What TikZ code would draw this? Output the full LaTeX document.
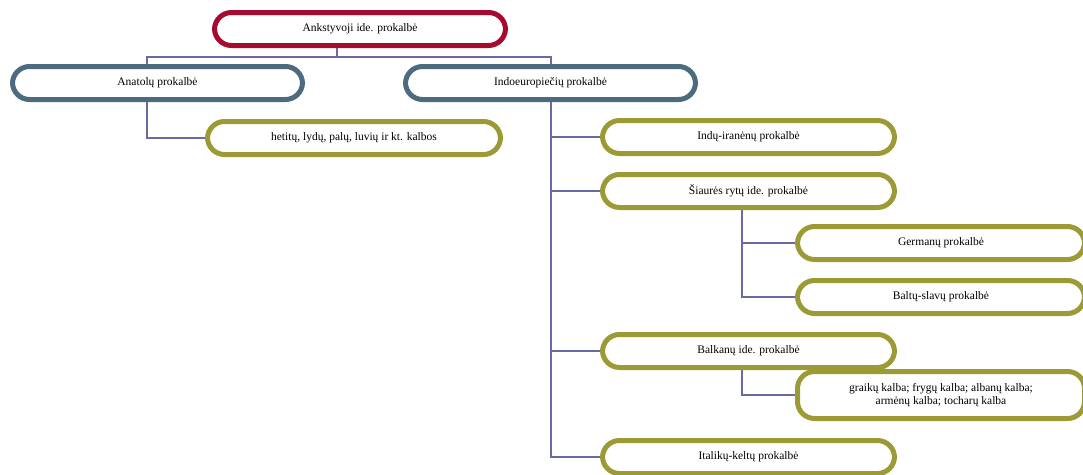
\documentclass[tikz,border=0pt]{standalone}
\usepackage{fontspec}
\setmainfont{Liberation Serif}
\usetikzlibrary{backgrounds}
\definecolor{rootred}{RGB}{166,10,46}
\definecolor{slate}{RGB}{76,107,126}
\definecolor{olive}{RGB}{156,154,52}
\definecolor{linkblue}{RGB}{106,106,166}
\begin{document}
\begin{tikzpicture}[x=1pt, y=-1pt,
		box/.style={draw, rectangle, rounded corners=17pt, line width=5pt, fill=white, minimum height=33pt, font=\fontsize{11.5}{13.5}\selectfont, align=center},
		rootbox/.style={box, draw=rootred},
		midbox/.style={box, draw=slate},
		leafbox/.style={box, draw=olive},
		link/.style={draw=linkblue, line width=1.3pt}]
	\useasboundingbox (0,0) rectangle (1083,474);

	% Root
	\node[rootbox, minimum width=291pt] (root) at (360,29) {Ankstyvoji ide. prokalbė};

	% Second level
	\node[midbox, minimum width=290pt] (anatolu) at (157.5,83) {Anatolų prokalbė};
	\node[midbox, minimum width=290pt] (indoeur) at (550.5,83) {Indoeuropiečių prokalbė};

	% Anatolian branch
	\node[leafbox, minimum width=293pt] (hetitu) at (354,138) {hetitų, lydų, palų, luvių ir kt. kalbos};

	% Indo-European branches
	\node[leafbox, minimum width=292pt] (indu) at (748.5,137) {Indų-iranėnų prokalbė};
	\node[leafbox, minimum width=292pt] (siaures) at (748.5,191) {Šiaurės rytų ide. prokalbė};
	\node[leafbox, minimum width=292pt] (balkanu) at (748.5,351) {Balkanų ide. prokalbė};
	\node[leafbox, minimum width=292pt] (italiku) at (748.5,457) {Italikų-keltų prokalbė};

	% North-east branches
	\node[leafbox, minimum width=287pt] (german) at (941,243) {Germanų prokalbė};
	\node[leafbox, minimum width=287pt] (baltu) at (941,297) {Baltų-slavų prokalbė};

	% Balkan branches
	\node[leafbox, minimum width=287pt, minimum height=47pt] (graiku) at (941,395) {graikų kalba; frygų kalba; albanų kalba;\\ armėnų kalba; tocharų kalba};

	% Connectors
	\coordinate (jtop) at (337,57);
	\coordinate (janat) at (147,57);
	\coordinate (jindo) at (551,57);
	\coordinate (jsub) at (742,0);
	\begin{scope}[on background layer]
		\draw[link] (root.south -| jtop) -- (jtop);
		\draw[link] (anatolu.north -| janat) -- (janat) -- (jindo) -- (indoeur.north -| jindo);
		\draw[link] (anatolu.south -| janat) |- (hetitu.west);
		\draw[link] (indoeur.south -| jindo) |- (indu.west);
		\draw[link] (indoeur.south -| jindo) |- (siaures.west);
		\draw[link] (indoeur.south -| jindo) |- (balkanu.west);
		\draw[link] (indoeur.south -| jindo) |- (italiku.west);
		\draw[link] (siaures.south -| jsub) |- (german.west);
		\draw[link] (siaures.south -| jsub) |- (baltu.west);
		\draw[link] (balkanu.south -| jsub) |- (graiku.west);
	\end{scope}
\end{tikzpicture}
\end{document}
